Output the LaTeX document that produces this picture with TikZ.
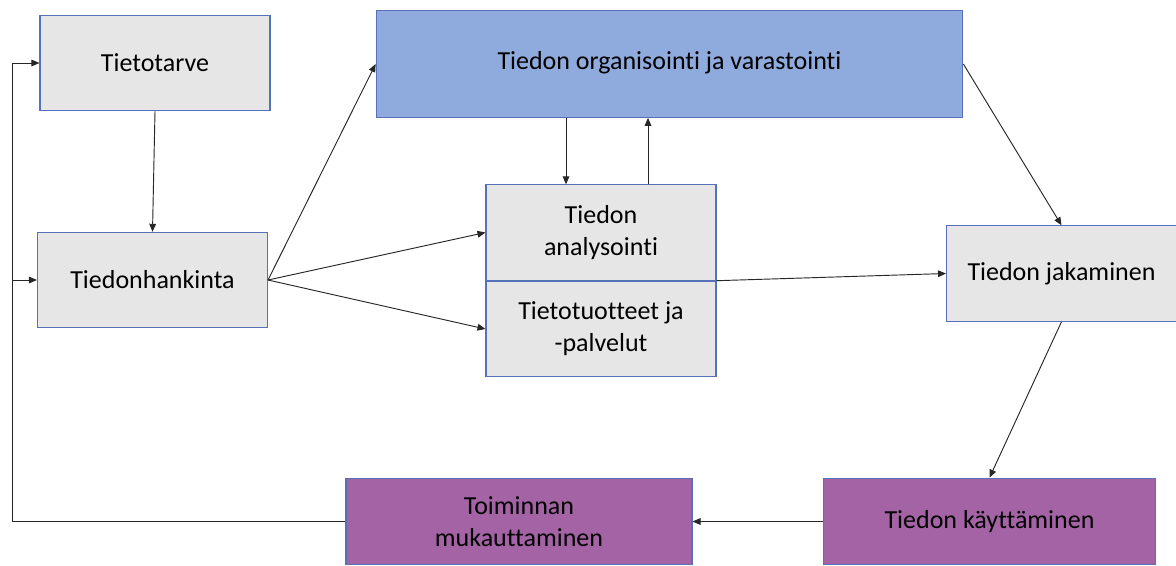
\documentclass[tikz,border=0pt]{standalone}
\usepackage{fontspec}
\setmainfont{Carlito}[Ligatures={NoCommon,NoRequired,NoContextual}]
\usetikzlibrary{arrows.meta,positioning,calc}
\definecolor{boxgray}{HTML}{E7E6E6}
\definecolor{boxblue}{HTML}{8FAADC}
\definecolor{boxpurple}{HTML}{A463A5}
\definecolor{edgeblue}{HTML}{5572B8}

\begin{document}
\begin{tikzpicture}[
  x=0.75pt, y=-0.75pt,
  font=\fontsize{19.5}{24}\selectfont,
  every node/.style={align=center},
  box/.style={draw=edgeblue, line width=0.8pt, fill=boxgray, inner sep=2pt,
              minimum width=172.5pt, minimum height=71.5pt},
  obox/.style={box, fill=boxblue, minimum width=440pt, minimum height=80pt},
  pbox/.style={box, fill=boxpurple, minimum height=65pt},
  arr/.style={-{Triangle[length=6pt,width=5pt]}, line width=0.7pt, black!85}
]
\useasboundingbox (0,0) rectangle (1176,565);

%% Top row
\node[box]  (tiet) at (155,63)    {Tietotarve};
\node[obox] (org)  at (669.5,64)  {\raisebox{5pt}{Tiedon organisointi ja varastointi}};

%% Middle row
\node[box]  (hank) at (152.5,280)   {Tiedonhankinta};
\node[box]  (ana)  at (601,232.5)   {Tiedon\\analysointi};
\node[box]  (tuot) at (601,329)     {Tietotuotteet ja\\-palvelut};
\node[box]  (jak)  at (1061.5,273.5) {Tiedon jakaminen};

%% Bottom row
\node[pbox, minimum width=249pt] (kay) at (989.5,521.5) {\raisebox{-5pt}{Tiedon käyttäminen}};
\node[pbox, minimum width=259.5pt] (toi) at (519,521.5) {Toiminnan\\mukauttaminen};

%% Arrows
\draw[arr] (tiet.south) -- (hank.north);
\draw[arr] (hank.east) -- (org.west);
\draw[arr] (hank.east) -- (ana.west);
\draw[arr] (hank.east) -- (tuot.west);

\coordinate (dn) at ($(ana.north)+(-35,0)$);
\coordinate (up) at ($(ana.north)+(47,0)$);
\draw[arr] (dn |- org.south) -- (dn);
\draw[arr] (up) -- (up |- org.south);

\draw[arr] (ana.south east) -- (jak.west);
\draw[arr] (org.east) -- (jak.north);
\draw[arr] (jak.south) -- (kay.north);
\draw[arr] (kay.west) -- (toi.east);

%% Feedback loop
\coordinate (lp) at (12,0);
\draw[arr] (toi.west) -- (toi.west -| lp) |- (tiet.west);
\draw[arr] (lp |- hank.west) -- (hank.west);

\end{tikzpicture}
\end{document}
